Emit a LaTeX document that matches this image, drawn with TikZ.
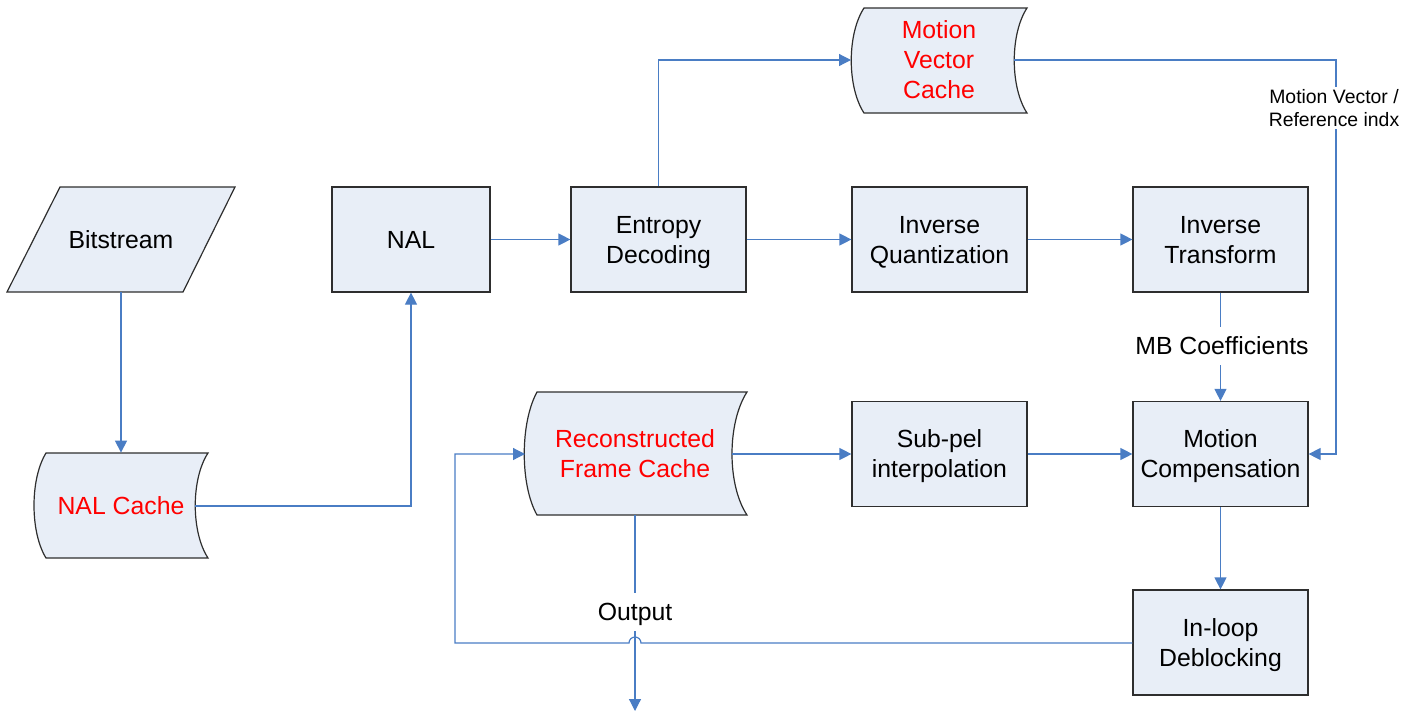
\documentclass[tikz,border=0pt]{standalone}
\usepackage{fontspec}
\setmainfont{Liberation Sans}
\usetikzlibrary{arrows.meta}
\definecolor{fillc}{HTML}{E8EEF7}
\definecolor{linec}{HTML}{4A7DC4}
\definecolor{edgec}{HTML}{2E2E2E}
\definecolor{redtext}{HTML}{FF0000}
\newcommand{\mystr}{\rule[-3.05pt]{0pt}{15pt}}
\begin{document}
\begin{tikzpicture}[x=0.5pt,y=-0.5pt,
  box/.style={draw=edgec,line width=0.6pt,fill=fillc,minimum width=87.5pt,minimum height=52.5pt,inner sep=0pt,align=center,font=\fontsize{12.4}{15}\selectfont},
  lbl/.style={align=center,inner sep=0pt,font=\fontsize{12.4}{15}\selectfont},
  smalllbl/.style={align=center,inner sep=1pt,fill=white,font=\fontsize{9.7}{11.6}\selectfont},
  redlbl/.style={lbl,text=redtext},
  shp/.style={draw=edgec,line width=0.6pt,fill=fillc},
  conn/.style={draw=linec,line width=0.6pt},
  arr/.style={conn,-{Triangle[width=6pt,length=6pt]}}]
\useasboundingbox (0,0) rectangle (1420,713);

% shapes
\draw[shp] (60,187) -- (235,187) -- (183,292) -- (7,292) -- cycle;
\node[lbl,minimum width=60pt,minimum height=52.5pt] (bit) at (121,239.5) {\mystr Bitstream};

% NAL cache
\draw[shp] (46,453) -- (208,453) .. controls (191,479) and (191,532) .. (208,558)
  -- (46,558) .. controls (30,532) and (30,479) .. (46,453) -- cycle;
\node[redlbl,minimum width=60pt,minimum height=52.5pt] (nalc) at (121,505.5) {\mystr NAL Cache};
\coordinate (nalcr) at (195,506);

% Motion vector cache
\draw[shp] (864,8) -- (1027,8) .. controls (1010,34) and (1010,87) .. (1027,113)
  -- (864,113) .. controls (847,87) and (847,34) .. (864,8) -- cycle;
\node[redlbl] (mvc) at (939,60) {\mystr Motion\\\mystr Vector\\\mystr Cache};
\coordinate (mvcl) at (851,60);
\coordinate (mvcr) at (1014,60);

% Reconstructed frame cache
\draw[shp] (537,392) -- (747,392) .. controls (727,423) and (727,485) .. (747,515)
  -- (537,515) .. controls (520,485) and (520,423) .. (537,392) -- cycle;
\node[redlbl,minimum width=80pt,minimum height=61.5pt] (rfc) at (635,453.5) {\mystr Reconstructed\\\mystr Frame Cache};
\coordinate (rfcl) at (525,454);
\coordinate (rfcr) at (732,454);

% boxes
\node[box,minimum width=79pt] (nal) at (411,239.5) {\mystr NAL};
\node[box] (ent) at (658.5,239.5) {\mystr Entropy\\\mystr Decoding};
\node[box] (iq) at (939.5,239.5) {\mystr Inverse\\\mystr Quantization};
\node[box] (it) at (1220.5,239.5) {\mystr Inverse\\\mystr Transform};
\node[box] (sp) at (939.5,454) {\mystr Sub-pel\\\mystr interpolation};
\node[box] (mc) at (1220.5,454) {\mystr Motion\\\mystr Compensation};
\node[box] (dbl) at (1220.5,642.5) {\mystr In-loop\\\mystr Deblocking};

% connectors
\draw[arr] (bit.south) -- (nalc.north);
\draw[arr] (nalcr) -| (nal.south);
\draw[arr] (nal) -- (ent);
\draw[arr] (ent.north) |- (mvcl);
\draw[arr] (ent) -- (iq);
\draw[arr] (iq) -- (it);
\coordinate (mvx) at (1336,454);
\draw[arr] (mvcr) -| (mvx) -- (mc.east);
\node[smalllbl] (mvlbl) at (1334,108) {Motion Vector /\\Reference indx};
\draw[arr] (it) -- (mc);
\node[lbl,fill=white,inner sep=2pt] (mblbl) at (1222,346) {\mystr MB Coefficients};
\draw[arr] (rfcr) -- (sp.west |- rfcr);
\draw[arr] (sp) -- (mc);
\draw[arr] (mc) -- (dbl);
\coordinate (outc) at (635,711);
\draw[arr] (rfc.south) -- (outc);
\node[lbl,fill=white,inner sep=2pt] (outlbl) at (635,612) {\mystr Output};
\coordinate (fbl) at (455,643);
\coordinate (bumpr) at (641,643);
\draw[arr] (dbl.west |- bumpr) -- (bumpr) arc[start angle=0,end angle=180,radius=3pt] -- (fbl) |- (rfcl);
\end{tikzpicture}
\end{document}
